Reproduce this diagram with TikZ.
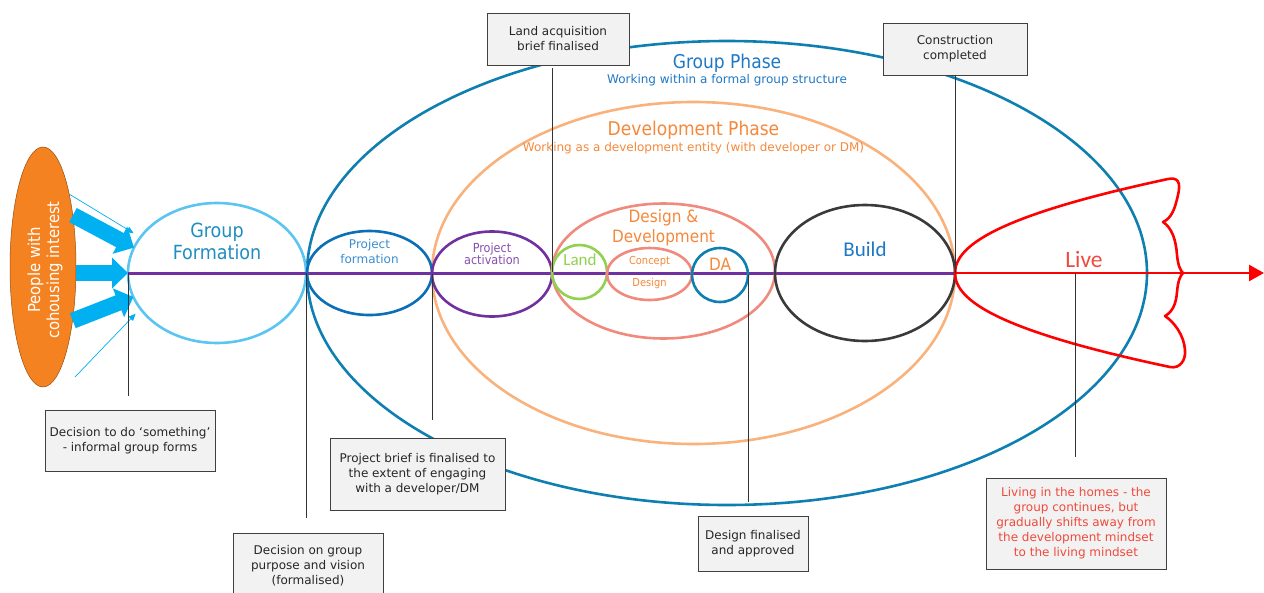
\documentclass[tikz,border=0pt]{standalone}
\usepackage{fontspec}
\setmainfont{DejaVu Sans}
\newfontfamily\cond{DejaVu Sans Condensed}
\newfontfamily\calibri{Carlito}
\usetikzlibrary{shapes.geometric,arrows.meta}

\definecolor{interestorange}{HTML}{F58220}
\definecolor{arrowblue}{HTML}{00B0F0}
\definecolor{formblue}{HTML}{5BC5F2}
\definecolor{formtext}{HTML}{1F8DC0}
\definecolor{axispurple}{HTML}{7030A0}
\definecolor{groupblue}{HTML}{0E7FB0}
\definecolor{grouptext}{HTML}{1F78C4}
\definecolor{devpeach}{HTML}{FAB27C}
\definecolor{devorange}{HTML}{F5883A}
\definecolor{projblue}{HTML}{0B6FB8}
\definecolor{projtext}{HTML}{3A8DD0}
\definecolor{salmon}{HTML}{F08A7C}
\definecolor{landgreen}{HTML}{92D050}
\definecolor{buildgrey}{HTML}{3A3A3A}
\definecolor{livered}{HTML}{FF0000}
\definecolor{livetext}{HTML}{F04A3C}
\definecolor{boxgrey}{HTML}{F2F2F2}

\tikzset{
  phase/.style={draw, ellipse, inner sep=0pt, outer sep=0pt, line width=2.6pt},
  note/.style={draw=black!75, fill=boxgrey, line width=0.8pt, align=center,
    inner sep=0pt, text=black!85, font=\fontsize{12}{15}\selectfont},
  callout/.style={draw=black!80, line width=0.8pt},
  fatarrow/.style={draw=arrowblue, line width=16pt, -{Triangle[width=30pt,length=16pt]}},
  thinarrow/.style={draw=arrowblue, line width=0.7pt, -{Triangle[width=6pt,length=7pt]}},
  axisline/.style={draw=axispurple, line width=3pt},
  big/.style={font=\cond\fontsize{19}{22}\selectfont},
  small/.style={font=\fontsize{12}{14}\selectfont}
}

\begin{document}
\begin{tikzpicture}[x=1pt,y=-1pt]
\useasboundingbox (0,0) rectangle (1264,592);

% phases
\node[phase, draw=groupblue, minimum width=840pt, minimum height=464pt] (gp) at (727,273) {};
\node[phase, draw=devpeach, minimum width=523pt, minimum height=342pt] (dp) at (693.5,273) {};

\node[big, text=grouptext] (gpTitle) at (727,63) {Group Phase};
\node[small, text=grouptext] (gpSub) at (727,80) {Working within a formal group structure};
\node[big, text=devorange] (dpTitle) at (693.5,130) {Development Phase};
\node[small, text=devorange] (dpSub) at (693.5,148) {Working as a development entity (with developer or DM)};

% people and group formation
\node[ellipse, draw=interestorange!60!black, line width=0.5pt, fill=interestorange,
  inner sep=0pt, minimum width=66pt, minimum height=240pt] (ppl) at (43,267) {};
\node[rotate=90, text=white, align=center, font=\cond\fontsize{16.5}{19}\selectfont] (pplText) at (45,270)
  {People with\\cohousing interest};

\node[phase, draw=formblue, minimum width=178pt, minimum height=140pt] (gf) at (217,273) {};
\node[big, text=formtext, align=center, font=\cond\fontsize{19.5}{22}\selectfont] (gfText) at (217,241) {Group\\Formation};

\draw[fatarrow] (ppl.60) -- (gf.163);
\draw[fatarrow] (ppl.east |- gf.west) -- (gf.west);
\draw[fatarrow] (ppl.299) -- (gf.196);
\coordinate (thinLow) at (75,377);
\draw[thinarrow, shorten >=8pt] (ppl.70) -- (gf.155);
\draw[thinarrow, shorten >=7pt] (thinLow) -- (gf.205);

% timeline
\draw[axisline] (gf.west) -- (955,273);

\node[phase, draw=projblue, minimum width=125pt, minimum height=84pt] (pf) at (369.5,273) {};
\node[text=projtext, align=center, font=\fontsize{12}{15}\selectfont] (pfText) at (369.5,252) {Project\\formation};

\node[phase, draw=axispurple, minimum width=120pt, minimum height=85pt] (pa) at (492,274) {};
\node[text=axispurple!85, align=center, font=\cond\fontsize{12.5}{12.5}\selectfont] (paText) at (492,254) {Project\\activation};

\node[phase, draw=salmon, minimum width=223pt, minimum height=135pt] (dd) at (663.5,271) {};
\node[text=devorange, align=center, font=\cond\fontsize{17}{20}\selectfont] (ddText) at (663.5,228) {Design \&\\Development};

\node[phase, draw=landgreen, minimum width=55pt, minimum height=54pt] (land) at (579.5,272) {};
\node[text=landgreen, font=\calibri\fontsize{17}{20}\selectfont] (landText) at (580,260) {Land};

\node[phase, draw=salmon, minimum width=85pt, minimum height=52pt] (cd) at (649.5,274) {};
\node[text=devorange, font=\cond\fontsize{11}{13}\selectfont] (cdTop) at (649.5,262) {Concept};
\node[text=devorange, font=\cond\fontsize{11}{13}\selectfont] (cdBot) at (649.5,283) {Design};

\node[phase, draw=groupblue, minimum width=56pt, minimum height=54pt] (da) at (720,275) {};
\node[text=devorange, font=\cond\fontsize{17}{20}\selectfont] (daText) at (720,264) {DA};

\node[phase, draw=buildgrey, minimum width=180pt, minimum height=136pt] (build) at (865,273) {};
\node[text=grouptext, font=\calibri\fontsize{21}{24}\selectfont] (buildText) at (865,249) {Build};

% living
\coordinate (vertex) at (build.east);
\coordinate (liveEnd) at (1264,273);
\draw[livered, line width=2.6pt, line join=round] (vertex)
  .. controls (955,245) and (1000,215) .. (1168,179)
  .. controls (1178,177) and (1181,182) .. (1178,195)
  .. controls (1175,208) and (1172,218) .. (1163,222)
  .. controls (1172,228) and (1176,240) .. (1177,255)
  .. controls (1178,265) and (1180,270) .. (1183,273)
  .. controls (1180,276) and (1178,281) .. (1177,292)
  .. controls (1176,305) and (1172,312) .. (1165,316)
  .. controls (1174,322) and (1184,335) .. (1185,350)
  .. controls (1186,360) and (1180,369) .. (1170,367)
  .. controls (1000,331) and (955,301) .. (vertex);
\draw[livered, line width=2.6pt, -{Triangle[width=16pt,length=15pt]}] (vertex) -- (liveEnd);
\node[text=livetext, font=\calibri\fontsize{23.5}{26}\selectfont] (liveText) at (1084,259) {Live};
\coordinate (livePt) at (1075,273);

% milestones
\node[note, minimum width=170pt, minimum height=61pt] (dec1) at (130,440.5)
  {Decision to do ‘something’\\- informal group forms};
\node[note, minimum width=150pt, minimum height=66pt] (dec2) at (308,566)
  {Decision on group\\purpose and vision\\(formalised)};
\node[note, minimum width=175pt, minimum height=72pt] (dec3) at (417.5,474)
  {Project brief is finalised to\\the extent of engaging\\with a developer/DM};
\node[note, minimum width=142pt, minimum height=52pt] (landAcq) at (558,39)
  {Land acquisition\\brief finalised};
\node[note, minimum width=144pt, minimum height=52pt] (constr) at (955,49)
  {Construction\\completed};
\node[note, minimum width=110pt, minimum height=55pt] (desFin) at (753,543.5)
  {Design finalised\\and approved};
\node[note, text=livetext, minimum width=180pt, minimum height=91pt] (living) at (1076,523.5)
  {Living in the homes - the\\group continues, but\\gradually shifts away from\\the development mindset\\to the living mindset};

\draw[callout] (gf.west) -- ([yshift=14pt]dec1.north -| gf.west);
\draw[callout] (gf.east) -- ([yshift=15pt]dec2.north -| gf.east);
\draw[callout] (pa.west) -- ([yshift=18pt]dec3.north -| pa.west);
\draw[callout] (land.west) -- ([yshift=-3pt]landAcq.south -| land.west);
\draw[callout] (build.east) -- (constr.south -| build.east);
\draw[callout] (da.east) -- ([yshift=14pt]desFin.north -| da.east);
\draw[callout] (livePt) -- ([yshift=21pt]living.north -| livePt);

\end{tikzpicture}
\end{document}
